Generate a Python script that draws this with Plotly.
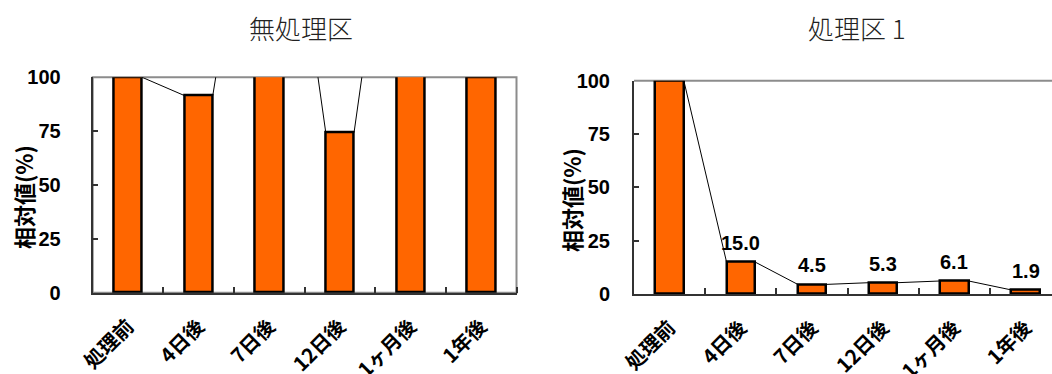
import plotly.graph_objects as go

# Sampling times (x categories)
categories = ["処理前", "4日後", "7日後", "12日後", "1ヶ月後", "1年後"]

# Relative values (%) for the untreated plot and treatment plot 1
untreated = [100, 91.5, 214, 74.3, 214, 100]
treated1 = [100, 15.0, 4.5, 5.3, 6.1, 1.9]

y_ticks = [0, 25, 50, 75, 100]
titles = ["無処理区", "処理区 1"]
y_title = "相対値(%)"

BAR_W = 0.4
ORANGE = "#FF6600"
AXIS = "#333333"
FRAME = "#8C8C8C"
NUM_FONT = "Liberation Sans, Noto Sans CJK JP"
JP_FONT = "Noto Sans CJK JP"

fig = go.Figure()


def series_line(values):
    """Connect the top-right corner of each bar to the top-left of the next."""
    xs, ys = [], []
    for i in range(len(values) - 1):
        xs += [i + BAR_W / 2, i + 1 - BAR_W / 2, None]
        ys += [values[i], values[i + 1], None]
    return xs, ys


for k, vals in enumerate([untreated, treated1]):
    xa = "x" if k == 0 else "x2"
    ya = "y" if k == 0 else "y2"
    idx = list(range(len(categories)))
    fig.add_trace(go.Bar(
        x=idx, y=vals, width=BAR_W, xaxis=xa, yaxis=ya,
        marker=dict(color=ORANGE, line=dict(color="#000000", width=2.5)),
        showlegend=False,
    ))
    lx, ly = series_line(vals)
    fig.add_trace(go.Scatter(
        x=lx, y=ly, mode="lines", xaxis=xa, yaxis=ya,
        line=dict(color="#000000", width=1), showlegend=False,
        hoverinfo="skip",
    ))

# Value labels above the treatment-plot bars (all but the baseline bar)
for i, v in enumerate(treated1):
    if i == 0:
        continue
    fig.add_annotation(
        x=i, y=v, xref="x2", yref="y2", text=f"{v:.1f}",
        showarrow=False, yanchor="bottom", yshift=6,
        font=dict(family=NUM_FONT, size=20, color="#000000", weight="bold"),
    )

common_x = dict(
    tickmode="array", tickvals=list(range(len(categories))), ticktext=categories,
    tickangle=-45, ticks="", showline=True, linecolor=AXIS, linewidth=2,
    showgrid=False, zeroline=False, automargin=False, ticklabelstandoff=12,
    tickfont=dict(family=JP_FONT, size=20, color="#000000", weight="bold"),
    minor=dict(tickmode="array", tickvals=[i + 0.5 for i in range(len(categories))],
               ticks="inside", ticklen=6, tickwidth=1.5, tickcolor=AXIS,
               showgrid=False),
)
common_y = dict(
    range=[0, 100], tickmode="array", tickvals=y_ticks,
    ticks="inside", ticklen=5, tickwidth=1.5, tickcolor=AXIS,
    showline=True, linecolor=AXIS, linewidth=2,
    showgrid=False, zeroline=False, automargin=False,
    tickfont=dict(family=NUM_FONT, size=20, color="#000000", weight="bold"),
)

W, H = 1052, 374
fig.update_layout(
    width=W, height=H, margin=dict(l=0, r=0, t=0, b=0),
    paper_bgcolor="white", plot_bgcolor="white", bargap=0,
    xaxis=dict(common_x, domain=[92.7 / W, 516.5 / W], range=[-0.5, 5.5],
               anchor="y"),
    yaxis=dict(common_y, domain=[(H - 292.7) / H, (H - 77.3) / H], anchor="x",
               ticklabelstandoff=26),
    xaxis2=dict(common_x, domain=[634 / W, 1.0],
                range=[-0.5, -0.5 + (W - 634) / 71.2], anchor="y2"),
    yaxis2=dict(common_y, domain=[(H - 294) / H, (H - 80.7) / H], anchor="x2",
                ticklabelstandoff=18),
)

# Plot-area frames: full box on the left chart, top edge on the right one
fig.add_shape(type="rect", xref="x domain", yref="y domain", x0=0, x1=1, y0=0, y1=1,
              line=dict(color=FRAME, width=2), layer="below")
fig.add_shape(type="line", xref="x2 domain", yref="y2 domain", x0=0, x1=1, y0=1, y1=1,
              line=dict(color=FRAME, width=2), layer="below")

# Chart titles and y-axis titles
for tx, text in zip([301, 857], titles):
    fig.add_annotation(
        x=tx / W, y=1 - 28 / H, xref="paper", yref="paper", text=text,
        showarrow=False, xanchor="center", yanchor="middle",
        font=dict(family=JP_FONT, size=26, color="#222222", weight=300),
    )
for tx, ty in [(23, 197), (571, 200)]:
    fig.add_annotation(
        x=tx / W, y=1 - ty / H, xref="paper", yref="paper", text=y_title,
        showarrow=False, textangle=-90, xanchor="center", yanchor="middle",
        font=dict(family=JP_FONT, size=22, color="#000000", weight="bold"),
    )

fig.write_html("out.html")
